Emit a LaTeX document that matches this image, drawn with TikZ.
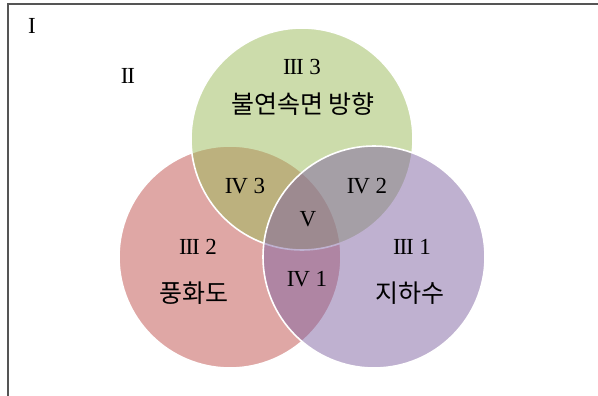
\documentclass[tikz,border=0pt]{standalone}
\usepackage{fontspec}
\setmainfont{Liberation Serif}
\newfontfamily\kr{Noto Sans CJK KR}
\definecolor{vgreen}{HTML}{9BBB59}
\definecolor{vred}{HTML}{C0504D}
\definecolor{vpurple}{HTML}{8064A2}
\definecolor{framegray}{HTML}{555555}
\newcommand{\rnI}{I}
\newcommand{\rnII}{I\kern-0.05em I}
\newcommand{\rnIII}{I\kern-0.05em I\kern-0.05em I}
\newcommand{\rnIV}{I\kern-0.05em V}
\newcommand{\rnV}{V}
\tikzset{
  venn/.style={draw=white, line width=1.6pt, fill opacity=0.5, draw opacity=1},
  rn/.style={font=\fontsize{23}{25}\selectfont, text=black, inner sep=0pt},
  krl/.style={font=\kr\fontsize{25}{27}\selectfont, text=black, inner sep=0pt},
}
\begin{document}
\begin{tikzpicture}[x=1pt,y=-1pt]
\useasboundingbox (0,0) rectangle (598,396);
\fill[white] (0,0) rectangle (598,396);
% frame
\coordinate (ftl) at (8,4);
\coordinate (ftr) at (600,4);
\coordinate (fbl) at (8,398);
\draw[framegray, line width=1.2pt] (ftr) -- (ftl) -- (fbl);
% circles
\path[venn, fill=vred] (230,257) circle[radius=111];
\path[venn, fill=vgreen] (302,139) circle[radius=111];
\path[venn, fill=vpurple] (374,257) circle[radius=111];
% labels
\node[rn] (l1) at (32,26) {\rnI};
\node[rn] (l2) at (128,76) {\rnII};
\node[rn] (l33) at (302,67) {\rnIII\ 3};
\node[krl] (k3) at (303,104) {불연속면 방향};
\node[rn] (l43) at (245,186) {\rnIV\ 3};
\node[rn] (l42) at (367,186) {\rnIV\ 2};
\node[rn] (l5) at (308,219) {\rnV};
\node[rn] (l32) at (198,247) {\rnIII\ 2};
\node[rn] (l31) at (412,247) {\rnIII\ 1};
\node[rn] (l41) at (307,279) {\rnIV\ 1};
\node[krl] (k2) at (194,293) {풍화도};
\node[krl] (k1) at (410,293) {지하수};
\end{tikzpicture}
\end{document}
